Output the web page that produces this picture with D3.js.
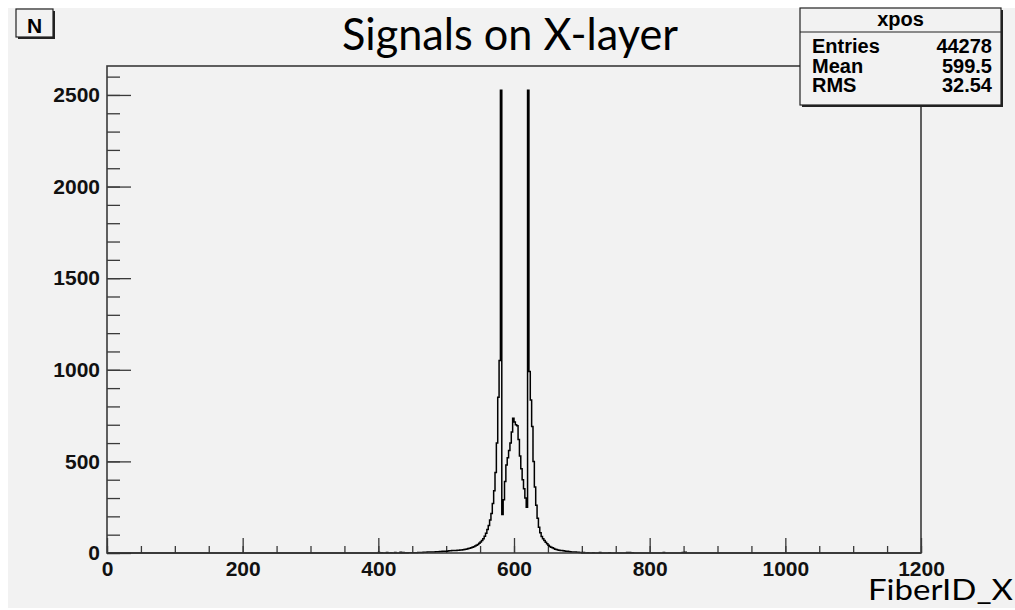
<!DOCTYPE html>
<html>
<head>
<meta charset="utf-8">
<script src="https://cdn.jsdelivr.net/npm/d3@7"></script>
<style>
  body { margin: 0; background: #ffffff; }
  svg { display: block; }
</style>
</head>
<body>
<svg id="chart"></svg>
<script>
// histogram bins, width 2 in FiberID units
const binWidth = 2;
const coreStart = 440;
const coreCounts = [
  1, 0, 1, 1, 2, 1, 2, 2, 2, 3, 3, 3, 3, 4, 4, 4, 5, 5, 5, 6, 6, 6, 7, 7, 7, 8, 8, 9, 9, 10,
  10, 11, 12, 12, 13, 13, 14, 14, 15, 15, 16, 17, 18, 19, 20, 22, 24, 26, 28, 31,
  34, 38, 42, 47, 53, 60, 68, 78, 92, 108, 128, 150, 180, 215, 270, 340, 440, 600, 850, 1050,
  2525, 210, 290, 390, 480, 520, 560, 600, 660, 735, 715, 700, 695, 620, 530, 460, 400, 350, 300, 250,
  2525, 990, 835, 690, 500, 360, 260, 190, 140, 110, 90, 78, 68, 58, 50, 42, 36, 32, 28, 24,
  21, 19, 17, 15, 14, 13, 12, 11, 10, 9, 8, 7, 6, 6, 5, 5, 4, 4, 3, 3
];
// a few lonely hits far out in the tails
const strayBins = [400, 404, 412, 418, 424, 432, 436, 702, 708, 716, 726, 740, 766, 770, 774, 820, 848, 852];
const strayCounts = [3, 2, 3, 2, 3, 4, 3, 3, 2, 2, 3, 2, 3, 3, 2, 3, 3, 4];

const xMajor = [0, 200, 400, 600, 800, 1000, 1200];
const yMajor = [0, 500, 1000, 1500, 2000, 2500];

const statsTitle = "xpos";
const statsLabels = ["Entries", "Mean", "RMS"];
const statsValues = ["44278", "599.5", "32.54"];

const width = 1015, height = 610;
const frame = { left: 107, right: 921, top: 66, bottom: 553 };
const axisFont = "'Liberation Sans', Arial, sans-serif";
const titleFont = "Lato, 'Open Sans', sans-serif";

const svg = d3.select("#chart").attr("width", width).attr("height", height);

// gray pad like the ROOT canvas
svg.append("rect").attr("x", 8).attr("y", 8).attr("width", width - 8).attr("height", 600)
  .attr("fill", "#f2f2f2");

const x = d3.scaleLinear().domain([0, 1200]).range([frame.left, frame.right]);
const y = d3.scaleLinear().domain([0, 2658]).range([frame.bottom, frame.top]);

// fill all bins
const counts = new Array(1200 / binWidth).fill(0);
coreCounts.forEach((c, i) => { counts[(coreStart / binWidth) + i] = c; });
strayBins.forEach((b, i) => { counts[b / binWidth] = strayCounts[i]; });

// step outline
const pts = [[0, 0]];
counts.forEach((c, i) => {
  pts.push([i * binWidth, c]);
  pts.push([(i + 1) * binWidth, c]);
});
pts.push([1200, 0]);

const line = d3.line().x(d => x(d[0])).y(d => y(d[1]));

// ticks (inward, like ROOT)
function styleAxis(g) {
  g.select(".domain").remove();
  g.selectAll("line").attr("stroke", "#3a3a3a").attr("stroke-width", 1.3);
  g.selectAll("text").attr("fill", "#111").style("font-family", axisFont)
    .style("font-weight", "bold").style("font-size", "21px");
}

svg.append("g").attr("transform", `translate(0,${frame.bottom})`)
  .call(d3.axisBottom(x).tickValues(d3.range(0, 1201, 50)).tickSizeInner(-7).tickSizeOuter(0).tickFormat(""))
  .call(styleAxis);
svg.append("g").attr("transform", `translate(0,${frame.bottom})`)
  .call(d3.axisBottom(x).tickValues(xMajor).tickSizeInner(-15).tickSizeOuter(0).tickPadding(8).tickFormat(d3.format("d")))
  .call(styleAxis);

svg.append("g").attr("transform", `translate(${frame.left},0)`)
  .call(d3.axisLeft(y).tickValues(d3.range(0, 2601, 100)).tickSizeInner(-13).tickSizeOuter(0).tickFormat(""))
  .call(styleAxis);
svg.append("g").attr("transform", `translate(${frame.left},0)`)
  .call(d3.axisLeft(y).tickValues(yMajor).tickSizeInner(-24).tickSizeOuter(0).tickPadding(7).tickFormat(d3.format("d")))
  .call(styleAxis);

// the histogram
svg.append("path").datum(pts).attr("d", line)
  .attr("fill", "none").attr("stroke", "#000").attr("stroke-width", 1.5);

// frame
svg.append("rect")
  .attr("x", frame.left).attr("y", frame.top)
  .attr("width", frame.right - frame.left).attr("height", frame.bottom - frame.top)
  .attr("fill", "none").attr("stroke", "#3a3a3a").attr("stroke-width", 1.6);

// title
const title = svg.append("text").attr("x", 510).attr("y", 50).attr("text-anchor", "middle")
  .style("font-family", titleFont).style("font-size", "44px").attr("fill", "#000")
  .text("Signals on X-layer");
title.attr("textLength", 336).attr("lengthAdjust", "spacingAndGlyphs");

// x axis title
svg.append("text").attr("x", 1013).attr("y", 600).attr("text-anchor", "end")
  .style("font-family", titleFont).style("font-size", "28px").attr("fill", "#000")
  .attr("textLength", 145).attr("lengthAdjust", "spacingAndGlyphs")
  .text("FiberID_X");

// "N" label box
svg.append("rect").attr("x", 18).attr("y", 11).attr("width", 37).attr("height", 28).attr("fill", "#222");
svg.append("rect").attr("x", 16).attr("y", 9).attr("width", 37).attr("height", 28)
  .attr("fill", "#f2f2f2").attr("stroke", "#222").attr("stroke-width", 1.2);
svg.append("text").attr("x", 34.5).attr("y", 33).attr("text-anchor", "middle")
  .style("font-family", axisFont).style("font-weight", "bold").style("font-size", "21px")
  .text("N");

// stats box
const sb = { x: 800, y: 8, w: 201, h: 97 };
svg.append("rect").attr("x", sb.x + 2).attr("y", sb.y + 2).attr("width", sb.w).attr("height", sb.h).attr("fill", "#222");
svg.append("rect").attr("x", sb.x).attr("y", sb.y).attr("width", sb.w).attr("height", sb.h)
  .attr("fill", "#f2f2f2").attr("stroke", "#222").attr("stroke-width", 1.2);
svg.append("line").attr("x1", sb.x).attr("x2", sb.x + sb.w).attr("y1", 32).attr("y2", 32)
  .attr("stroke", "#222").attr("stroke-width", 1.2);
svg.append("text").attr("x", sb.x + sb.w / 2).attr("y", 26).attr("text-anchor", "middle")
  .style("font-family", axisFont).style("font-weight", "bold").style("font-size", "20px")
  .text(statsTitle);
statsLabels.forEach((lab, i) => {
  const by = 53 + i * 19.7;
  svg.append("text").attr("x", 812).attr("y", by)
    .style("font-family", axisFont).style("font-weight", "bold").style("font-size", "20px")
    .text(lab);
  svg.append("text").attr("x", 992).attr("y", by).attr("text-anchor", "end")
    .style("font-family", axisFont).style("font-weight", "bold").style("font-size", "20px")
    .text(statsValues[i]);
});
</script>
</body>
</html>
